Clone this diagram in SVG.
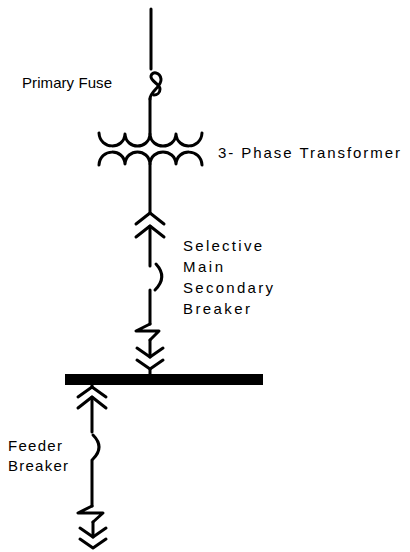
<svg xmlns="http://www.w3.org/2000/svg" width="410" height="552" viewBox="0 0 410 552">
<style>
.w{fill:none;stroke:#000;stroke-width:3;stroke-linecap:round;stroke-linejoin:round}
.t{font-family:"Liberation Sans","DejaVu Sans",sans-serif;font-size:15px;fill:#000}
</style>
<rect width="410" height="552" fill="#fff"/>
<g id="connectors">
<path class="w" d="M151,9 V69"/>
<path class="w" d="M150,99 V134"/>
<path class="w" d="M150,164 V213"/>
<path class="w" d="M150,226 V266"/>
<path class="w" d="M150,290 V324"/>
<path class="w" d="M150,340 V357"/>
<path class="w" d="M150,369 V375"/>
<path class="w" d="M92,384 V387"/>
<path class="w" d="M92,397 V432"/>
<path class="w" d="M92,460 V506"/>
<path class="w" d="M93,522 V537"/>
</g>
<g id="primary-fuse">
<path class="w" d="M150,99 C150,91 162,87 161,79 C160,72 152,71 151,76 C150,81 160,84 160,89 C160,93 157,95 154,95"/>
<text class="t" x="22" y="88" textLength="90" lengthAdjust="spacing">Primary Fuse</text>
</g>
<g id="transformer">
<path class="w" d="M99,133 C100,150 124,150 125,134 C126,150 149,150 150,134 C151,150 175,150 176,134 C177,150 201,150 202,133"/>
<path class="w" d="M99,165 C100,148 124,148 125,164 C126,148 149,148 150,164 C151,148 175,148 176,164 C177,148 201,148 202,165"/>
<text class="t" x="218" y="158" textLength="182" lengthAdjust="spacing">3- Phase Transformer</text>
</g>
<g id="main-breaker">
<path class="w" d="M136,224 L150,213 L164,224"/>
<path class="w" d="M136,237 L150,226 L164,237"/>
<path class="w" d="M156,264 Q168,277 155,290"/>
<path class="w" d="M150,324 L136,331 L159,331 L150,340"/>
<path class="w" d="M137,348 L150,357 L163,348"/>
<path class="w" d="M137,360 L150,369 L163,360"/>
<text class="t" x="183" y="251" textLength="79" lengthAdjust="spacing">Selective</text>
<text class="t" x="183" y="272" textLength="40" lengthAdjust="spacing">Main</text>
<text class="t" x="183" y="293" textLength="90" lengthAdjust="spacing">Secondary</text>
<text class="t" x="183" y="314" textLength="67" lengthAdjust="spacing">Breaker</text>
</g>
<g id="bus">
<rect x="65" y="374" width="198" height="11" fill="#000"/>
</g>
<g id="feeder-breaker">
<path class="w" d="M78,397 L92,387 L106,397"/>
<path class="w" d="M78,408 L92,397 L106,408"/>
<path class="w" d="M93,435 Q105,447 93,459"/>
<path class="w" d="M92,506 L78,513 L103,513 L93,522"/>
<path class="w" d="M80,528 L93,537 L106,528"/>
<path class="w" d="M80,539 L93,548 L106,539"/>
<text class="t" x="8" y="451" textLength="54" lengthAdjust="spacing">Feeder</text>
<text class="t" x="8" y="471" textLength="60" lengthAdjust="spacing">Breaker</text>
</g>
</svg>
